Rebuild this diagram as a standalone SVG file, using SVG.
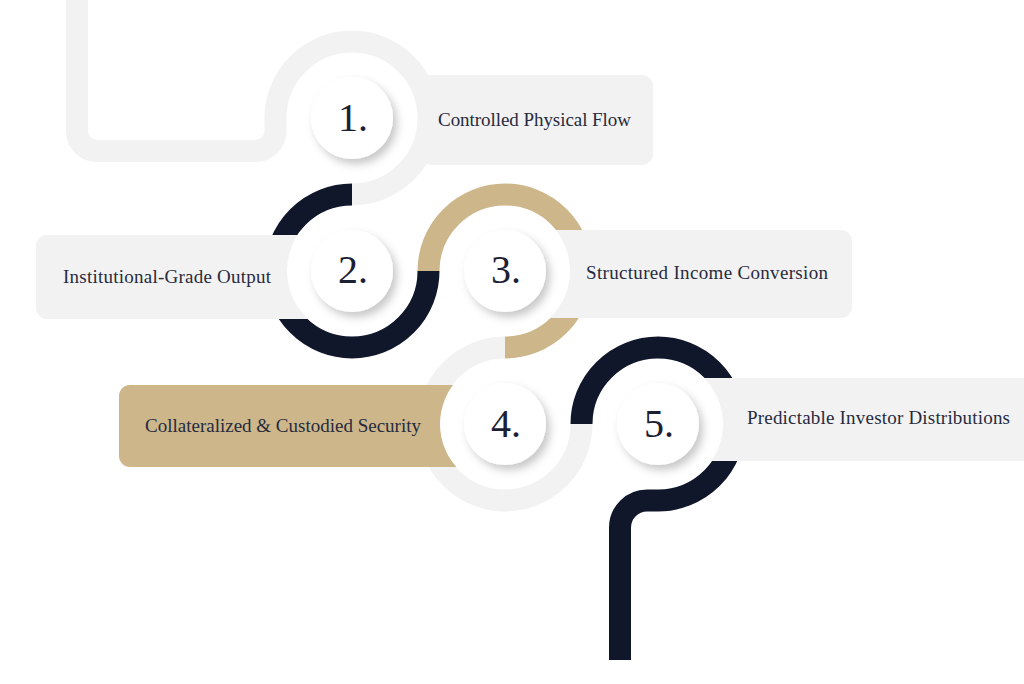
<svg xmlns="http://www.w3.org/2000/svg" width="1024" height="684" viewBox="0 0 1024 684">
  <style>
    .ring { fill: none; stroke-width: 22; stroke-linecap: butt; stroke-linejoin: round; }
    .gray { stroke: #f2f2f2; }
    .navy { stroke: #10172b; }
    .tan { stroke: #cdb68a; }
    .box { fill: #f2f2f2; }
    .boxtan { fill: #cdb68a; }
    .disk { fill: #ffffff; }
    .badge { fill: #ffffff; filter: url(#shadow); }
    .num { font-family: "Liberation Serif", "DejaVu Serif", serif; font-size: 40px; fill: #1c2033; text-anchor: middle; }
    .label { font-family: "Liberation Serif", "DejaVu Serif", serif; font-size: 19px; fill: #272b3e; }
  </style>
  <defs>
    <filter id="shadow" x="-40%" y="-40%" width="190%" height="190%">
      <feDropShadow dx="4" dy="5" stdDeviation="4" flood-color="#000000" flood-opacity="0.22"/>
    </filter>
  </defs>
  <rect width="1024" height="684" fill="#ffffff"/>

  <g id="connectors">
    <path class="ring gray" d="M 77 -5 L 77 131 A 20 20 0 0 0 97 151 L 255.5 151 A 20 20 0 0 0 275.5 131 L 275.5 118 A 76.5 76.5 0 0 1 428.5 118 A 76.5 76.5 0 0 1 352 194.5"/>
    <path class="ring navy" d="M 352 194.5 A 76.5 76.5 0 0 0 275.5 271 A 76.5 76.5 0 0 0 428.5 271"/>
    <path class="ring tan" d="M 428.5 271 A 76.5 76.5 0 0 1 581.5 271 A 76.5 76.5 0 0 1 505 347.5"/>
    <path class="ring gray" d="M 505 347.5 A 76.5 76.5 0 0 0 428.5 424 A 76.5 76.5 0 0 0 581.5 424"/>
    <path class="ring navy" d="M 581.5 424 A 76.5 76.5 0 0 1 734.5 424 A 76.5 76.5 0 0 1 658 500.5 L 647 500.5 A 27 27 0 0 0 620 527.5 L 620 660"/>
  </g>

  <g id="node1">
    <rect class="box" x="420" y="75" width="233" height="90" rx="11"/>
    <circle class="disk" cx="352" cy="118" r="65"/>
    <circle class="badge" cx="352" cy="118" r="41"/>
    <text class="num" x="353" y="131">1.</text>
    <text class="label" x="438" y="126" textLength="193">Controlled Physical Flow</text>
  </g>

  <g id="node2">
    <rect class="box" x="36" y="235" width="300" height="84" rx="11"/>
    <circle class="disk" cx="352" cy="271" r="65"/>
    <circle class="badge" cx="352" cy="271" r="41"/>
    <text class="num" x="353" y="283">2.</text>
    <text class="label" x="63" y="283" textLength="208">Institutional-Grade Output</text>
  </g>

  <g id="node3">
    <rect class="box" x="530" y="230" width="322" height="88" rx="11"/>
    <circle class="disk" cx="505" cy="271" r="65"/>
    <circle class="badge" cx="505" cy="271" r="41"/>
    <text class="num" x="506" y="283">3.</text>
    <text class="label" x="586" y="279" textLength="242">Structured Income Conversion</text>
  </g>

  <g id="node4">
    <rect class="boxtan" x="119" y="385" width="360" height="82" rx="11"/>
    <circle class="disk" cx="505" cy="424" r="65"/>
    <circle class="badge" cx="505" cy="424" r="41"/>
    <text class="num" x="506" y="437">4.</text>
    <text class="label" x="145" y="432" textLength="276">Collateralized &amp; Custodied Security</text>
  </g>

  <g id="node5">
    <rect class="box" x="690" y="378" width="345" height="83" rx="11"/>
    <circle class="disk" cx="658" cy="424" r="65"/>
    <circle class="badge" cx="658" cy="424" r="41"/>
    <text class="num" x="659" y="437">5.</text>
    <text class="label" x="747" y="424" textLength="263">Predictable Investor Distributions</text>
  </g>
</svg>
